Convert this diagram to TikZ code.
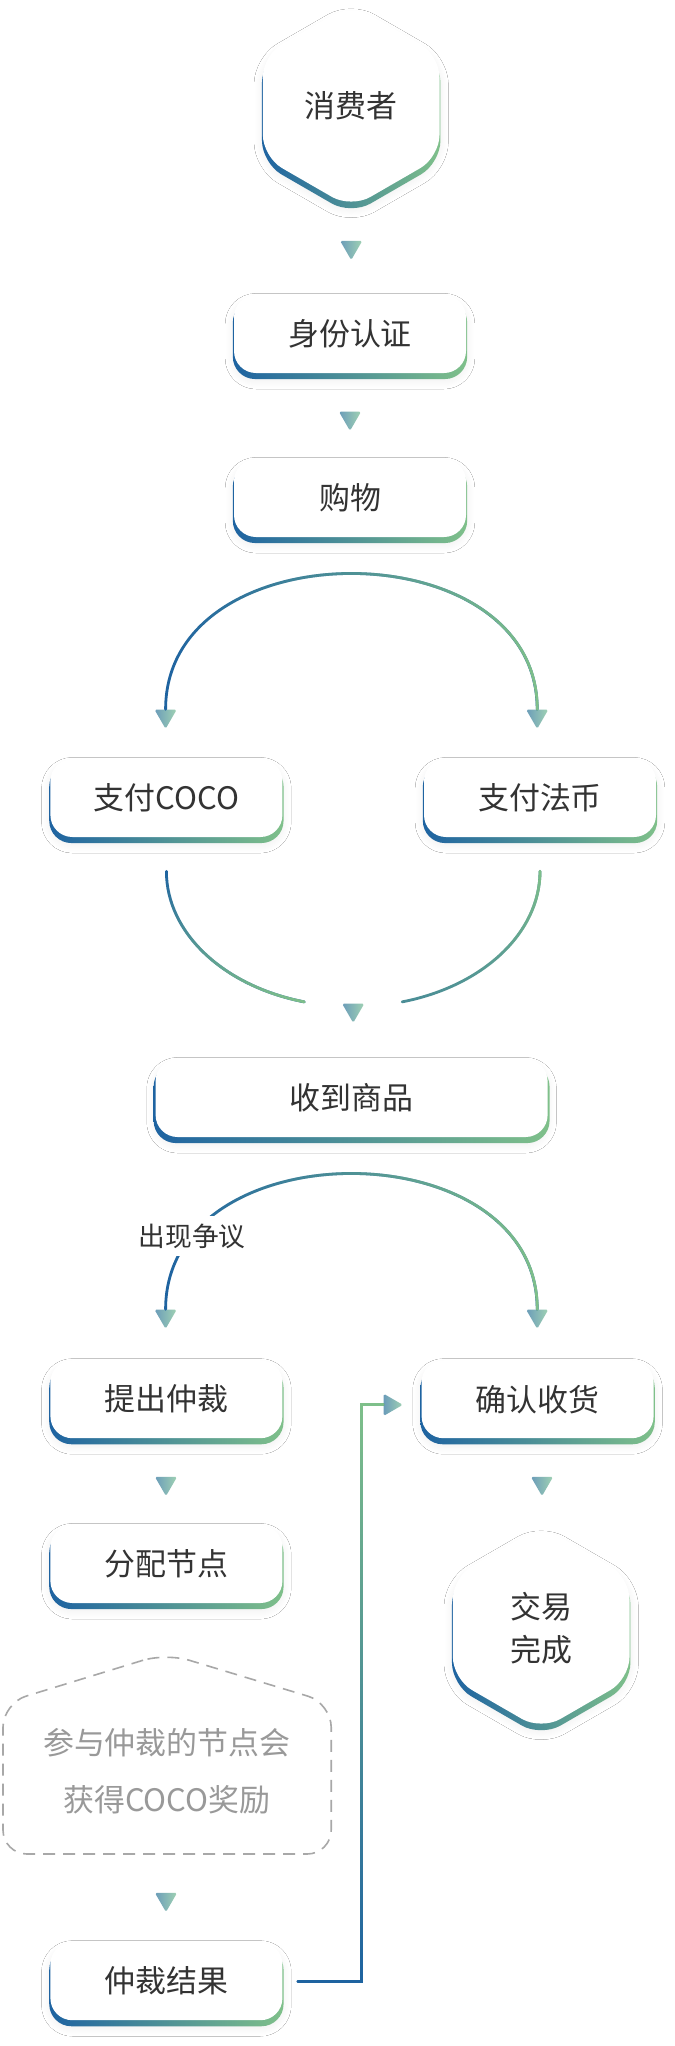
\documentclass[tikz,border=0pt]{standalone}
\usepackage{fontspec}
\setmainfont{Noto Sans CJK SC}
\usetikzlibrary{shapes.geometric,shadows,shadows.blur,fadings}

\definecolor{cblue}{HTML}{1E63A1}
\definecolor{cgreen}{HTML}{7FC08A}
\definecolor{tblue}{HTML}{6B9CB9}
\definecolor{tgreen}{HTML}{A0D2B3}
\definecolor{ink}{HTML}{333333}
\definecolor{softgray}{HTML}{999999}

\begin{document}
\begin{tikzpicture}[
        % white card with gradient bottom edge
        box/.style={fill=white, rounded corners=0.55cm, minimum width=5.8cm, minimum height=1.95cm,
            font=\fontsize{22}{31}\selectfont, text=ink, align=center,
            blur shadow={shadow xshift=0cm, shadow yshift=-0.18cm, shadow blur radius=0.22cm,
                shadow blur steps=10, shadow opacity=7},
            general shadow={left color=cblue, right color=cgreen, shadow yshift=-0.14cm, shadow scale=1.01}},
        % hexagon for start and end
        hexa/.style={box, regular polygon, regular polygon sides=6, regular polygon rotate=30,
            minimum size=5.1cm, inner sep=0pt},
        % small gradient triangle
        tri/.style={regular polygon, regular polygon sides=3, regular polygon rotate=180,
            minimum size=0.64cm, inner sep=0pt, rounded corners=1.2pt, left color=tblue, right color=tgreen},
        % gradient line
        flow/.style={draw=cblue, line width=0.07cm, line cap=round,
            postaction={draw=cgreen, line width=0.07cm, path fading=#1}},
        flow/.default=west,
        % text on a line
        tag/.style={font=\fontsize{19}{24}\selectfont, text=ink, fill=white, inner sep=0.2cm},
        % dashed outline
        dashbox/.style={draw=softgray!85, line width=0.04cm, dash pattern=on 0.3cm off 0.2cm, rounded corners=0.6cm}
    ]

    % page
    \fill[white] (0,0) rectangle (16.85,-51.15);

    % start
    \node[hexa] (consumer) at (8.78, -2.65) {消费者};
    \node[tri] (t1) at (8.78, -6.18) {};
    \node[box] (auth) at (8.75, -8.35) {身份认证};
    \node[tri] (t2) at (8.75, -10.45) {};
    \node[box] (shop) at (8.75, -12.45) {购物};

    % payment
    \node[tri] (t3) at (4.14, -17.9) {};
    \node[tri] (t4) at (13.43, -17.9) {};
    \draw[flow] (t3.north) to[out=90, in=90, looseness=1.25] (t4.north);

    \node[box] (coco) at (4.16, -19.95) {支付COCO};
    \node[box] (fiat) at (13.5, -19.95) {支付法币};

    \node[tri] (t5) at (8.83, -25.25) {};
    \draw[flow=north] ([yshift=-0.85cm]coco.south) arc[start angle=180, end angle=255, x radius=4.65cm, y radius=3.38cm];
    \draw[flow=south, draw=cgreen!45!cblue] ([yshift=-0.85cm]fiat.south) arc[start angle=0, end angle=-75, x radius=4.65cm, y radius=3.38cm];

    \node[box, minimum width=9.8cm] (recv) at (8.79, -27.45) {收到商品};

    % dispute or confirm
    \node[tri] (t6) at (4.14, -32.9) {};
    \node[tri] (t7) at (13.43, -32.9) {};
    \draw[flow] (t6.north) to[out=90, in=90, looseness=1.25] (t7.north);
    \node[tag] (dispute) at (4.8, -30.9) {出现争议};

    \node[box] (arb) at (4.16, -34.98) {提出仲裁};
    \node[box] (confirm) at (13.44, -34.98) {确认收货};
    \node[tri] (t9) at (4.15, -37.08) {};
    \node[tri] (t10) at (13.55, -37.08) {};
    \node[box] (assign) at (4.16, -39.1) {分配节点};
    \node[hexa] (done) at (13.53, -40.7) {交易\\完成};

    % reward note
    \draw[dashbox] (4.15, -41.33) -- (0.075, -42.58) -- (0.075, -46.35) -- (8.28, -46.35) -- (8.28, -42.58) -- cycle;
    \node[text=softgray, font=\fontsize{22}{40.5}\selectfont, align=center] (reward) at (4.17, -44.29) {参与仲裁的节点会\\获得COCO奖励};

    \node[tri] (t11) at (4.15, -47.48) {};
    \node[box] (result) at (4.16, -49.53) {仲裁结果};

    % back to confirm
    \node[tri, regular polygon rotate=-90] (t8) at (9.75, -35.12) {};
    \draw[flow=south] ([xshift=0.375cm]result.east) -- ++(1.6,0) |- (t8.west);

\end{tikzpicture}
\end{document}
